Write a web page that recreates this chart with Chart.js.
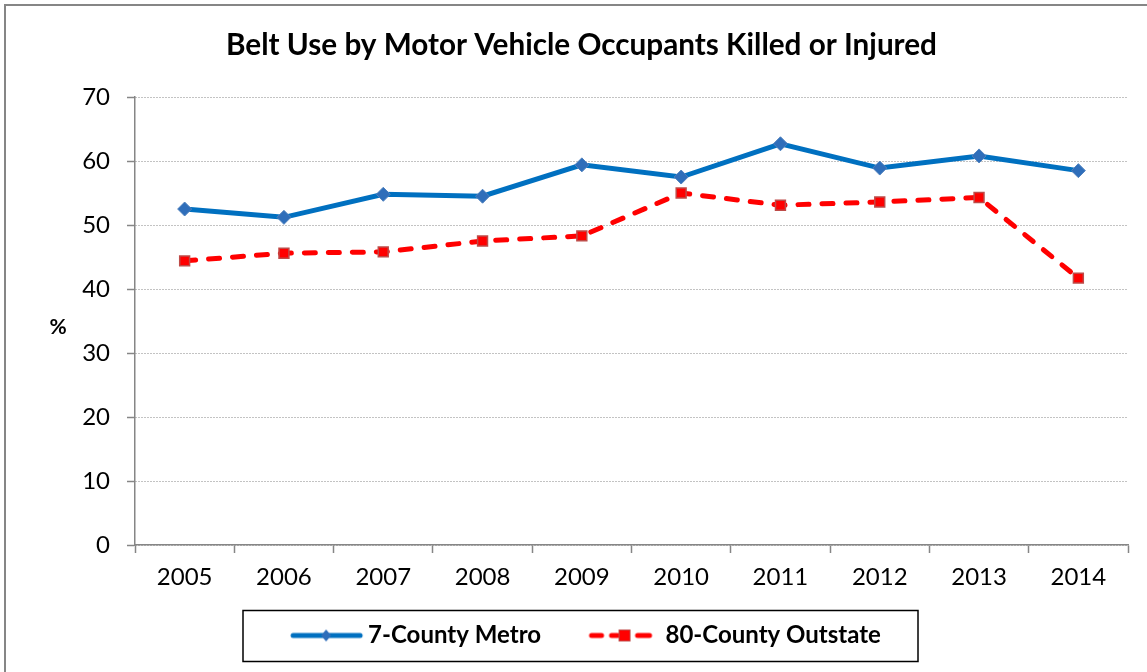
<!DOCTYPE html>
<html>
<head>
<meta charset="utf-8">
<script src="https://cdn.jsdelivr.net/npm/chart.js@4.4.1/dist/chart.umd.min.js"></script>
<style>
    body { margin: 0; background: #fff; }
    #wrap { width: 1147px; height: 672px; position: relative; }
</style>
</head>
<body>
<div id="wrap"><canvas id="beltChart"></canvas></div>
<script>
// data
const years = ['2005', '2006', '2007', '2008', '2009', '2010', '2011', '2012', '2013', '2014'];
const metroValues = [52.5, 51.2, 54.8, 54.5, 59.4, 57.5, 62.7, 58.9, 60.8, 58.5];
const outstateValues = [44.4, 45.6, 45.8, 47.5, 48.3, 55.0, 53.1, 53.6, 54.3, 41.7];
const yTicks = [0, 10, 20, 30, 40, 50, 60, 70];

const FONT = 'Lato, "Open Sans", sans-serif';
const gridGray = '#868686';
const LEGEND_BOX = 94;          // legend box width
const SYM_W = LEGEND_BOX + 24;  // symbol canvas ends right where the label text starts

// legend symbols: line with marker, drawn on small canvases
function legendSymbol(kind) {
    const c = document.createElement('canvas');
    c.width = SYM_W;
    c.height = 18;
    const g = c.getContext('2d');
    const e = SYM_W; // x of label text
    g.lineWidth = 5;
    g.lineCap = 'round';
    if (kind === 'metro') {
        g.strokeStyle = '#0070C0';
        g.beginPath(); g.moveTo(e - 75, 9); g.lineTo(e - 8, 9); g.stroke();
        g.fillStyle = '#2F6EBA';
        g.beginPath(); g.moveTo(e - 42, 3); g.lineTo(e - 37, 9); g.lineTo(e - 42, 15); g.lineTo(e - 47, 9); g.closePath(); g.fill();
    } else {
        g.strokeStyle = '#FF0000';
        g.beginPath();
        g.moveTo(e - 74, 9); g.lineTo(e - 64, 9);
        g.moveTo(e - 54, 9); g.lineTo(e - 48, 9);
        g.moveTo(e - 28, 9); g.lineTo(e - 16, 9);
        g.stroke();
        g.fillStyle = '#FF0000';
        g.strokeStyle = '#BE4B48';
        g.lineWidth = 1;
        g.fillRect(e - 47, 3, 12, 12);
        g.strokeRect(e - 46.5, 3.5, 11, 11);
    }
    return c;
}

const symbols = [legendSymbol('metro'), legendSymbol('outstate')];

const decorPlugin = {
    id: 'decor',
    afterLayout(chart) {
        // nudge the legend row a little to the left, like the original
        if (chart.legend) {
            chart.legend.left -= 20;
        }
    },
    beforeDraw(chart) {
        const ctx = chart.ctx;
        ctx.save();
        ctx.strokeStyle = '#868686';
        ctx.lineWidth = 2;
        ctx.strokeRect(5, 5, 1200, 800);
        ctx.restore();
    },
    afterDraw(chart) {
        const ctx = chart.ctx;
        const area = chart.chartArea;
        ctx.save();
        // y axis title, horizontal
        ctx.fillStyle = '#000';
        ctx.font = 'bold 21px ' + FONT;
        ctx.textAlign = 'center';
        ctx.textBaseline = 'middle';
        ctx.fillText('%', 58, (area.top + area.bottom) / 2 + 6);
        // box around the legend
        const lg = chart.legend;
        if (lg && lg.legendHitBoxes.length) {
            const hb = lg.legendHitBoxes[0];
            const cy = hb.top + hb.height / 2;
            ctx.strokeStyle = '#000';
            ctx.lineWidth = 1.5;
            ctx.strokeRect(243, cy - 25, 675, 51);
        }
        ctx.restore();
    }
};

const ctx = document.getElementById('beltChart').getContext('2d');
const beltChart = new Chart(ctx, {
    type: 'line',
    data: {
        labels: years,
        datasets: [{
            label: '7-County Metro',
            data: metroValues,
            borderColor: '#0070C0',
            backgroundColor: '#2F6EBA',
            borderWidth: 5,
            pointStyle: 'rectRot',
            pointRadius: 7,
            pointBackgroundColor: '#2F6EBA',
            pointBorderColor: '#4F81BD',
            pointBorderWidth: 1,
            tension: 0
        }, {
            label: '80-County Outstate',
            data: outstateValues,
            borderColor: '#FF0000',
            backgroundColor: '#FF0000',
            borderWidth: 5,
            borderDash: [11, 13],
            borderCapStyle: 'round',
            pointStyle: 'rect',
            pointRadius: 7,
            pointBackgroundColor: '#FF0000',
            pointBorderColor: '#BE4B48',
            pointBorderWidth: 1.5,
            tension: 0
        }]
    },
    options: {
        responsive: true,
        maintainAspectRatio: false,
        animation: false,
        layout: {
            padding: { left: 35, right: 19, top: 0, bottom: 14.5 }
        },
        scales: {
            x: {
                offset: true,
                grid: {
                    offset: true,
                    drawOnChartArea: false,
                    drawTicks: true,
                    tickLength: 8,
                    tickColor: gridGray,
                    tickWidth: 1.5
                },
                border: { color: gridGray, width: 1.5 },
                ticks: {
                    color: '#000',
                    padding: 10,
                    font: { family: FONT, size: 24 }
                },
                afterFit(scale) { scale.height = 60; }
            },
            y: {
                min: 0,
                max: 70,
                afterBuildTicks(scale) {
                    scale.ticks = yTicks.map(v => ({ value: v }));
                },
                grid: {
                    color: gridGray,
                    lineWidth: 1,
                    drawTicks: true,
                    tickLength: 8,
                    tickColor: gridGray,
                    tickWidth: 1.5,
                    tickBorderDash: []
                },
                border: { color: gridGray, width: 1.5, dash: [1, 2] },
                ticks: {
                    color: '#000',
                    padding: 17,
                    font: { family: FONT, size: 24 }
                },
                afterFit(scale) { scale.width = 100; }
            }
        },
        plugins: {
            title: {
                display: true,
                text: 'Belt Use by Motor Vehicle Occupants Killed or Injured',
                color: '#000',
                font: { family: FONT, size: 29.7, weight: 'bold' },
                padding: { top: 27.2, bottom: 34.2 }
            },
            legend: {
                position: 'bottom',
                labels: {
                    color: '#000',
                    font: { family: FONT, size: 24, weight: 'bold' },
                    usePointStyle: true,
                    pointStyleWidth: LEGEND_BOX,
                    padding: 18.5,
                    generateLabels(chart) {
                        return chart.data.datasets.map((ds, i) => ({
                            text: ds.label,
                            pointStyle: symbols[i],
                            fillStyle: ds.borderColor,
                            strokeStyle: ds.borderColor,
                            lineWidth: 0,
                            hidden: false,
                            datasetIndex: i,
                            fontColor: '#000'
                        }));
                    }
                }
            },
            tooltip: { enabled: false }
        }
    },
    plugins: [decorPlugin]
});
</script>
</body>
</html>
